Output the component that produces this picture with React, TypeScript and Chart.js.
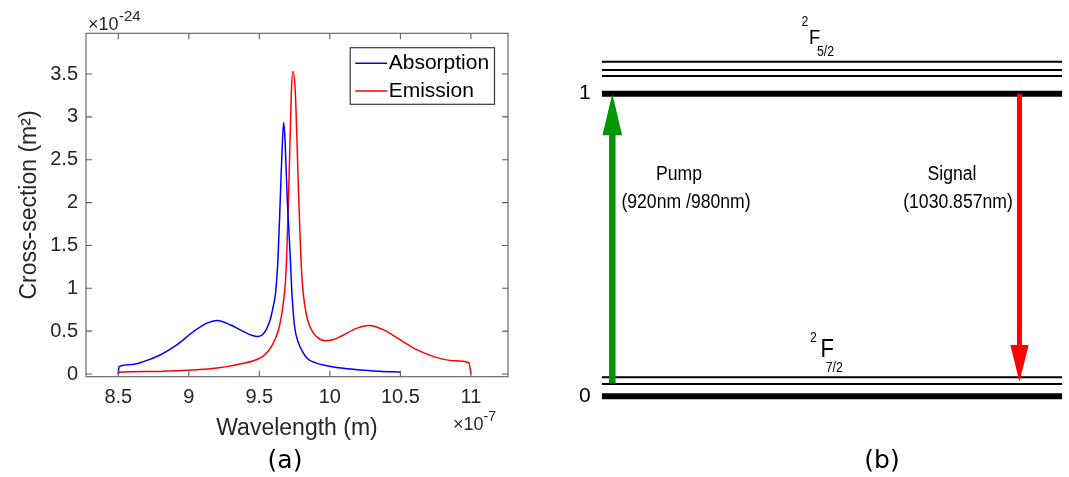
import React, { useEffect, useRef } from "react";
import { Chart, registerables } from "chart.js";

Chart.register(...registerables);

// ---------- Panel (a) data (wavelength in units of 1e-7 m, cross-section in units of 1e-24 m^2) ----------
const absorptionWavelength = [
  8.5, 8.505, 8.6, 8.678, 8.796, 8.915, 9.033, 9.128, 9.2, 9.293, 9.388, 9.45, 9.483, 9.52, 9.55,
  9.577, 9.6, 9.615, 9.632, 9.65, 9.662, 9.673, 9.683, 9.696, 9.72, 9.731, 9.75, 9.778, 9.81,
  9.84, 9.9, 9.97, 10.098, 10.217, 10.35, 10.5,
];
const absorptionCrossSection = [
  0, 0.086, 0.112, 0.144, 0.222, 0.34, 0.495, 0.593, 0.624, 0.574, 0.495, 0.45, 0.437, 0.455, 0.52,
  0.632, 0.8, 0.945, 1.335, 2.116, 2.65, 2.935, 2.7, 2.116, 1.335, 0.945, 0.554, 0.36, 0.25,
  0.18, 0.13, 0.1, 0.066, 0.047, 0.033, 0.022,
];
const emissionWavelength = [
  8.5, 8.505, 8.7, 8.915, 9.151, 9.27, 9.388, 9.483, 9.52, 9.554, 9.585, 9.61, 9.635, 9.655, 9.67,
  9.684, 9.693, 9.708, 9.727, 9.738, 9.755, 9.778, 9.795, 9.81, 9.838, 9.862, 9.909, 9.968, 10.02,
  10.075, 10.193, 10.276, 10.382, 10.5, 10.619, 10.737, 10.879, 10.986, 11,
];
const emissionCrossSection = [
  0, 0.02, 0.029, 0.039, 0.062, 0.086, 0.125, 0.17, 0.2, 0.25, 0.32, 0.4, 0.51, 0.66, 0.83,
  1.05, 1.335, 2.116, 3.287, 3.528, 3.287, 2.116, 1.335, 0.96, 0.66, 0.54, 0.43, 0.388, 0.4,
  0.437, 0.535, 0.566, 0.515, 0.398, 0.281, 0.203, 0.156, 0.132, 0,
];
const xTickValues = [8.5, 9, 9.5, 10, 10.5, 11];
const yTickValues = [0, 0.5, 1, 1.5, 2, 2.5, 3, 3.5];
const seriesLabels = ["Absorption", "Emission"];
const seriesColors = ["#0000ff", "#ff0000"];

// ---------- Panel (b) data (normalised energy) ----------
const thickLevels = [0, 1];
const upperSublevels = [1.1057, 1.0783, 1.0585];
const lowerSublevels = [0.0628, 0.0406];
const levelTickValues = [0, 1];
const pumpPosition = 0.023;
const pumpFrom = 0.043;
const pumpTo = 1;
const signalPosition = 0.907;
const signalFrom = 1;
const signalTo = 0.048;

const FONT = "'Liberation Sans', Arial, Helvetica, sans-serif";
const CAPTION = "'DejaVu Sans', Verdana, sans-serif";
const NARROW_SCALE = 0.88;
const AXIS_COLOR = "#5e5e5e";
const TEXT_COLOR = "#262626";

const W1 = 540;
const W2 = 529;
const H = 477;
const OFFSET2 = 540;

const panelAPlugin = {
  id: "panelA",
  afterDraw(chart: any) {
    const ctx = chart.ctx;
    const { left, right, top, bottom } = chart.chartArea;
    const xs = chart.scales.x;
    const ys = chart.scales.y;
    ctx.save();
    // box
    ctx.strokeStyle = AXIS_COLOR;
    ctx.lineWidth = 1.1;
    ctx.strokeRect(left, top, right - left, bottom - top);
    // inward ticks
    const tl = 6;
    ctx.beginPath();
    xTickValues.forEach((v) => {
      const px = xs.getPixelForValue(v);
      ctx.moveTo(px, bottom);
      ctx.lineTo(px, bottom - tl);
      ctx.moveTo(px, top);
      ctx.lineTo(px, top + tl);
    });
    yTickValues.forEach((v) => {
      const py = ys.getPixelForValue(v);
      ctx.moveTo(left, py);
      ctx.lineTo(left + tl, py);
      ctx.moveTo(right, py);
      ctx.lineTo(right - tl, py);
    });
    ctx.stroke();

    // legend
    const boxR = right - 13.5;
    const boxT = top + 14.4;
    const boxW = 144.3;
    const boxH = 56.6;
    const boxL = boxR - boxW;
    ctx.fillStyle = "#ffffff";
    ctx.fillRect(boxL, boxT, boxW, boxH);
    ctx.strokeStyle = "#3a3a3a";
    ctx.lineWidth = 1.2;
    ctx.strokeRect(boxL, boxT, boxW, boxH);
    chart.data.datasets.forEach((ds: any, i: number) => {
      const cy = boxT + 15.5 + i * 27.7;
      ctx.strokeStyle = ds.borderColor;
      ctx.lineWidth = 1.5;
      ctx.beginPath();
      ctx.moveTo(boxL + 5, cy);
      ctx.lineTo(boxL + 37, cy);
      ctx.stroke();
      ctx.fillStyle = "#000";
      ctx.font = `21px ${FONT}`;
      ctx.textAlign = "left";
      ctx.textBaseline = "middle";
      ctx.fillText(ds.label, boxL + 38.5, cy + 0.5);
    });

    // exponent labels
    ctx.fillStyle = TEXT_COLOR;
    ctx.textAlign = "left";
    ctx.textBaseline = "alphabetic";
    ctx.font = `18px ${FONT}`;
    ctx.fillText("×10", 88, 30);
    ctx.font = `15px ${FONT}`;
    ctx.fillText("-24", 119, 21);
    ctx.font = `18px ${FONT}`;
    ctx.fillText("×10", 453, 430);
    ctx.font = `14px ${FONT}`;
    ctx.fillText("-7", 483.5, 420.5);

    // caption
    ctx.fillStyle = "#000";
    ctx.font = `25px ${CAPTION}`;
    ctx.textAlign = "center";
    ctx.textBaseline = "middle";
    ctx.fillText("(a)", 285, 461);
    ctx.restore();
  },
};

type TextItem = { text: string; x: number; y: number; size: number; align?: string; caption?: boolean };
const panelBTexts: TextItem[] = [
  { text: "Pump", x: 679, y: 180, size: 20, align: "center" },
  { text: "(920nm /980nm)", x: 686, y: 208, size: 20, align: "center" },
  { text: "Signal", x: 952, y: 180, size: 20, align: "center" },
  { text: "(1030.857nm)", x: 958, y: 208, size: 20, align: "center" },
  { text: "2", x: 801.5, y: 26, size: 14 },
  { text: "F", x: 809, y: 43.5, size: 21 },
  { text: "5/2", x: 817, y: 55.7, size: 14 },
  { text: "2", x: 810, y: 341.7, size: 14 },
  { text: "F", x: 820.5, y: 356.7, size: 25 },
  { text: "7/2", x: 825.7, y: 371.7, size: 14 },
  { text: "(b)", x: 882, y: 461, size: 25, align: "center", caption: true },
];

const panelBPlugin = {
  id: "panelB",
  afterDatasetsDraw(chart: any) {
    const ctx = chart.ctx;
    ctx.save();
    chart.data.datasets.forEach((ds: any, i: number) => {
      if (!ds.arrow) return;
      const meta = chart.getDatasetMeta(i);
      const p0 = meta.data[0];
      const p1 = meta.data[meta.data.length - 1];
      const { headLength, headWidth, shaftWidth } = ds.arrow;
      const dir = Math.sign(p1.y - p0.y);
      const baseY = p1.y - dir * headLength;
      ctx.fillStyle = ds.borderColor;
      const y0 = Math.min(p0.y, baseY + dir * 1);
      const y1 = Math.max(p0.y, baseY + dir * 1);
      ctx.fillRect(p0.x - shaftWidth / 2, y0, shaftWidth, y1 - y0);
      ctx.beginPath();
      ctx.moveTo(p1.x, p1.y);
      ctx.lineTo(p1.x - headWidth / 2, baseY);
      ctx.lineTo(p1.x + headWidth / 2, baseY);
      ctx.closePath();
      ctx.fill();
    });
    ctx.restore();
  },
  afterDraw(chart: any) {
    const ctx = chart.ctx;
    panelBTexts.forEach((t) => {
      ctx.save();
      ctx.fillStyle = "#000";
      ctx.textAlign = (t.align || "left") as CanvasTextAlign;
      if (t.caption) {
        ctx.font = `${t.size}px ${CAPTION}`;
        ctx.textBaseline = "middle";
        ctx.fillText(t.text, t.x - OFFSET2, t.y);
      } else {
        ctx.font = `${t.size}px ${FONT}`;
        ctx.textBaseline = "alphabetic";
        ctx.translate(t.x - OFFSET2, t.y);
        ctx.scale(NARROW_SCALE, 1);
        ctx.fillText(t.text, 0, 0);
      }
      ctx.restore();
    });
  },
};

function levelDataset(y: number, width: number) {
  return {
    data: [
      { x: 0, y },
      { x: 1, y },
    ],
    borderColor: "#000000",
    borderWidth: width,
    pointRadius: 0,
    borderCapStyle: "butt",
    fill: false,
  };
}

const plainNumber = (v: any) => String(Math.round(Number(v) * 1000) / 1000);

export default function App() {
  const ref1 = useRef<HTMLCanvasElement>(null);
  const ref2 = useRef<HTMLCanvasElement>(null);

  useEffect(() => {
    const c1 = new Chart(ref1.current as HTMLCanvasElement, {
      type: "line",
      data: {
        datasets: [
          {
            label: seriesLabels[0],
            data: absorptionWavelength.map((x, i) => ({ x, y: absorptionCrossSection[i] })),
            borderColor: seriesColors[0],
            borderWidth: 1.5,
            pointRadius: 0,
            cubicInterpolationMode: "monotone",
            fill: false,
          },
          {
            label: seriesLabels[1],
            data: emissionWavelength.map((x, i) => ({ x, y: emissionCrossSection[i] })),
            borderColor: seriesColors[1],
            borderWidth: 1.5,
            pointRadius: 0,
            cubicInterpolationMode: "monotone",
            fill: false,
          },
        ],
      },
      options: {
        animation: false,
        responsive: false,
        maintainAspectRatio: false,
        events: [],
        layout: { padding: { left: 0, top: 33.3, right: 32, bottom: 0 } },
        plugins: { legend: { display: false }, tooltip: { enabled: false } },
        scales: {
          x: {
            type: "linear",
            min: 8.271,
            max: 11.263,
            afterBuildTicks: (s: any) => {
              s.ticks = xTickValues.map((value) => ({ value }));
            },
            afterFit: (s: any) => {
              s.height = H - 376.7;
            },
            grid: { display: false, drawTicks: false },
            border: { display: false },
            ticks: {
              font: { family: FONT, size: 20 },
              color: TEXT_COLOR,
              padding: 9,
              maxRotation: 0,
              autoSkip: false,
              callback: plainNumber,
            },
            title: {
              display: true,
              text: "Wavelength (m)",
              font: { family: FONT, size: 23 },
              color: TEXT_COLOR,
              padding: { top: 0, bottom: 35 },
            },
          },
          y: {
            type: "linear",
            min: -0.0315,
            max: 3.975,
            afterBuildTicks: (s: any) => {
              s.ticks = yTickValues.map((value) => ({ value }));
            },
            afterFit: (s: any) => {
              s.width = 86;
            },
            grid: { display: false, drawTicks: false },
            border: { display: false },
            ticks: {
              font: { family: FONT, size: 20 },
              color: TEXT_COLOR,
              padding: 8,
              autoSkip: false,
              callback: plainNumber,
            },
            title: {
              display: true,
              text: "Cross-section (m²)",
              font: { family: FONT, size: 23 },
              color: TEXT_COLOR,
              padding: { top: 16, bottom: 0 },
            },
          },
        },
      } as any,
      plugins: [panelAPlugin],
    } as any);

    const levelSets = [
      ...upperSublevels.map((y) => levelDataset(y, 2)),
      ...lowerSublevels.map((y) => levelDataset(y, 2)),
      ...thickLevels.map((y) => levelDataset(y, 6)),
    ];

    const c2 = new Chart(ref2.current as HTMLCanvasElement, {
      type: "line",
      data: {
        datasets: [
          ...levelSets,
          {
            label: "Pump",
            data: [
              { x: pumpPosition, y: pumpFrom },
              { x: pumpPosition, y: pumpTo },
            ],
            borderColor: "rgb(0,150,0)",
            showLine: false,
            pointRadius: 0,
            arrow: { headLength: 41.5, headWidth: 19.7, shaftWidth: 6.5 },
          },
          {
            label: "Signal",
            data: [
              { x: signalPosition, y: signalFrom },
              { x: signalPosition, y: signalTo },
            ],
            borderColor: "#ff0000",
            showLine: false,
            pointRadius: 0,
            arrow: { headLength: 36.7, headWidth: 18.3, shaftWidth: 5 },
          },
        ],
      },
      options: {
        animation: false,
        responsive: false,
        maintainAspectRatio: false,
        events: [],
        layout: { padding: { left: 0, top: 33.18, right: W2 - (1062.3 - OFFSET2), bottom: 50.44 } },
        plugins: { legend: { display: false }, tooltip: { enabled: false } },
        scales: {
          x: { type: "linear", display: false, min: 0, max: 1 },
          y: {
            type: "linear",
            min: -0.1,
            max: 1.2,
            afterBuildTicks: (s: any) => {
              s.ticks = levelTickValues.map((value) => ({ value }));
            },
            afterFit: (s: any) => {
              s.width = 601.7 - OFFSET2;
            },
            grid: { display: false, drawTicks: false },
            border: { display: false },
            ticks: { font: { family: FONT, size: 21 }, color: "#000", padding: 11, autoSkip: false, callback: plainNumber },
          },
        },
      } as any,
      plugins: [panelBPlugin],
    } as any);

    return () => {
      c1.destroy();
      c2.destroy();
    };
  }, []);

  return (
    <div style={{ position: "absolute", left: 0, top: 0, width: 1069, height: H, background: "#fff" }}>
      <canvas ref={ref1} width={W1} height={H} style={{ position: "absolute", left: 0, top: 0, width: W1, height: H }} />
      <canvas
        ref={ref2}
        width={W2}
        height={H}
        style={{ position: "absolute", left: OFFSET2, top: 0, width: W2, height: H }}
      />
    </div>
  );
}
